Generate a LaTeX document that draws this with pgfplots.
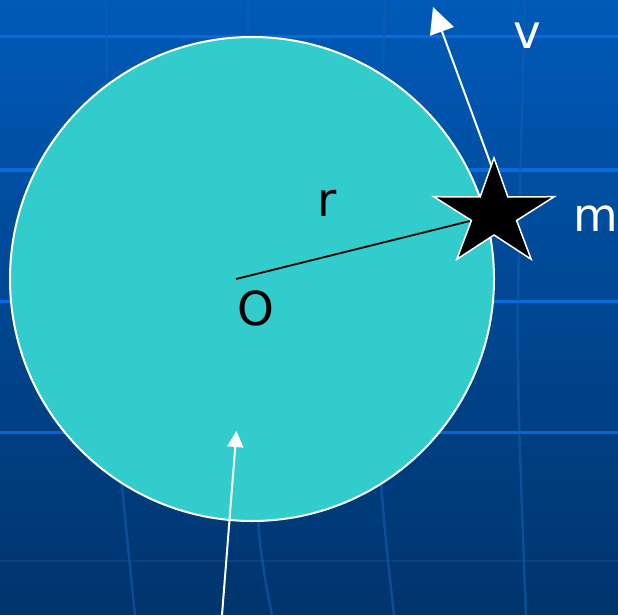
\documentclass[border=0pt]{standalone}
\usepackage{pgfplots}
\pgfplotsset{compat=1.18}
\usepackage{fontspec}
\setmainfont{DejaVu Sans}
\usetikzlibrary{arrows.meta}
\definecolor{bgtop}{RGB}{0,90,184}
\definecolor{bgbot}{RGB}{0,52,108}
\definecolor{hline}{RGB}{8,106,220}
\definecolor{vline}{RGB}{20,92,175}
\definecolor{disk}{RGB}{51,204,204}
\begin{document}
\begin{tikzpicture}
\begin{axis}[name=ax,
  x=1bp, y=1bp, y dir=reverse,
  xmin=0, xmax=618, ymin=0, ymax=615,
  axis lines=none, ticks=none,
  axis background/.style={top color=bgtop, bottom color=bgbot},
  clip=true]
% horizontal grid lines
\addplot[hline, line width=3bp] coordinates {(0,37) (618,37)};
\addplot[hline, line width=3bp] coordinates {(0,170) (618,170)};
\addplot[hline, line width=3bp] coordinates {(0,301) (618,301)};
\addplot[hline!95!black, line width=3bp] coordinates {(0,432) (618,432)};
\addplot[vline!70!black, line width=2bp] coordinates {(0,561) (618,561)};
% curved vertical lines
\addplot[vline, line width=2.5bp, smooth, opacity=0.6] coordinates {(106,0) (108,150) (112,300) (119,450) (135,615)};
\addplot[vline, line width=2.5bp, smooth, opacity=0.6] coordinates {(248,0) (249,150) (252,300) (258,520) (272,615)};
\addplot[vline, line width=2.5bp, smooth, opacity=0.6] coordinates {(385,0) (381,150) (378,300) (381,480) (394,615)};
\addplot[vline, line width=2.5bp, smooth, opacity=0.6] coordinates {(525,0) (521,150) (518,300) (519,420) (526,615)};
% disk
\draw[fill=disk, draw=white, line width=2bp] (axis cs:252,279) circle [radius=242];
% radius
\addplot[black, line width=1.8bp] coordinates {(236,279) (470,221)};
% velocity arrow
\addplot[white, line width=2bp, -{Triangle[length=26bp,width=25bp]}] coordinates {(494,173) (433,7)};
% star
\addplot[fill=black, draw=white, line width=1.5bp] coordinates {(494,158) (507.9,197) (554.2,196.7) (516.6,220.5) (531.2,259.3) (494,235) (456.8,259.3) (471.4,220.5) (433.8,196.7) (480.1,197)} -- cycle;
% bottom arrow
\addplot[white, line width=2bp, -{Triangle[length=16bp,width=16bp]}] coordinates {(222,615) (236.5,431)};
% labels
\node[anchor=base, font=\fontsize{47}{50}\selectfont, text=black, inner sep=0pt] at (axis cs:327,216) {r};
\node[anchor=base, font=\fontsize{47}{50}\selectfont, text=black, inner sep=0pt] at (axis cs:255.5,325) {O};
\node[anchor=base, font=\fontsize{47}{50}\selectfont, text=white, inner sep=0pt] at (axis cs:527,49) {v};
\node[anchor=base west, font=\fontsize{46}{50}\selectfont, text=white, inner sep=0pt] at (axis cs:573,231) {m};
\end{axis}
\pgfresetboundingbox
\path (ax.south west) rectangle (ax.north east);
\end{tikzpicture}
\end{document}
